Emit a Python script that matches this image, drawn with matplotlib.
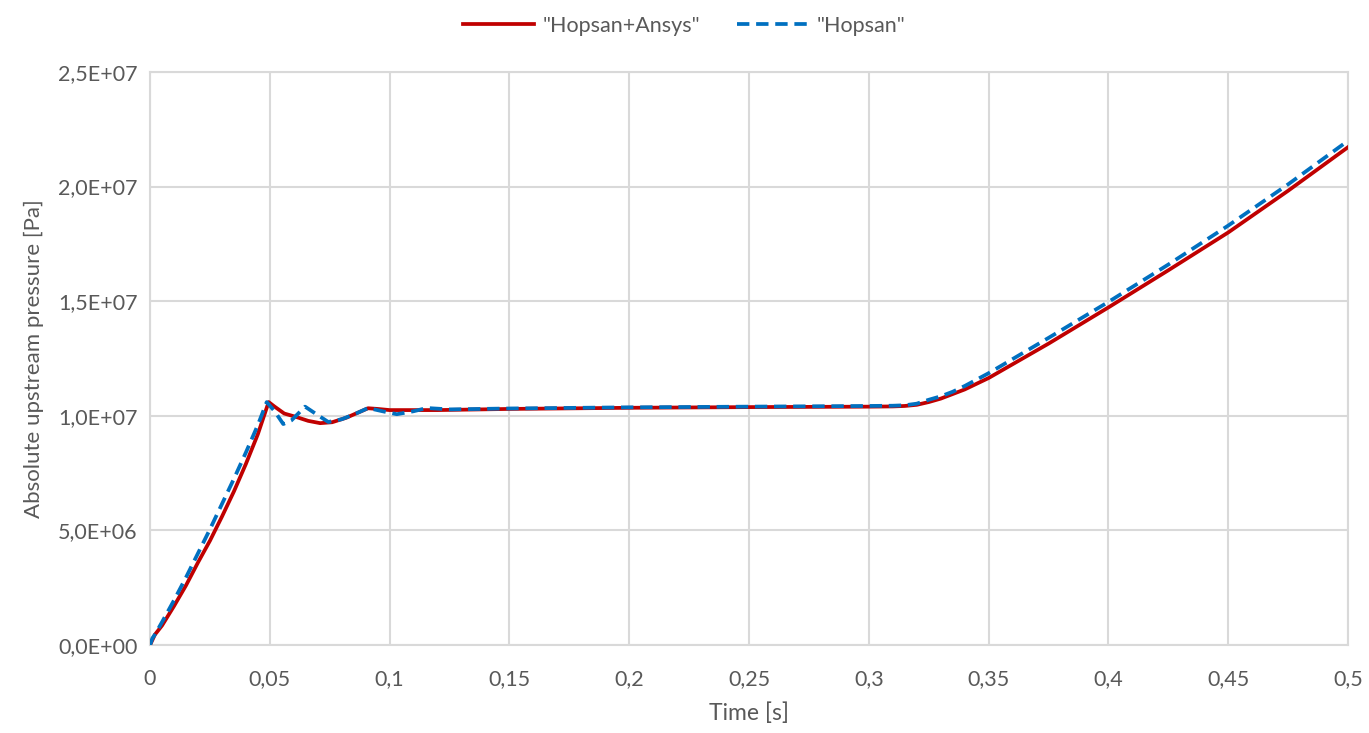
import numpy as np
import matplotlib.pyplot as plt

# --- Upstream pressure: Hopsan+Ansys vs Hopsan ---

# values
t_ansys = [0, 0.002, 0.005, 0.01, 0.015, 0.02, 0.025, 0.03, 0.035, 0.04, 0.045, 0.0495,
           0.052, 0.056, 0.061, 0.066, 0.071, 0.076, 0.082, 0.087, 0.091, 0.095, 0.1,
           0.12, 0.15, 0.2, 0.25, 0.3, 0.31, 0.315, 0.32, 0.325, 0.33, 0.335, 0.34,
           0.35, 0.375, 0.4, 0.425, 0.45, 0.475, 0.5]
p_ansys = [0, 4.5e5, 8.5e5, 1.7e6, 2.6e6, 3.6e6, 4.55e6, 5.6e6, 6.7e6, 7.9e6, 9.2e6, 1.06e7,
           1.04e7, 1.01e7, 9.95e6, 9.78e6, 9.68e6, 9.72e6, 9.92e6, 1.015e7, 1.033e7, 1.03e7, 1.025e7,
           1.025e7, 1.03e7, 1.035e7, 1.038e7, 1.04e7, 1.041e7, 1.043e7, 1.048e7, 1.06e7, 1.075e7, 1.095e7, 1.115e7,
           1.165e7, 1.315e7, 1.473e7, 1.635e7, 1.8e7, 1.982e7, 2.172e7]

t_hopsan = [0, 0.001, 0.002, 0.005, 0.01, 0.015, 0.02, 0.025, 0.03, 0.035, 0.04, 0.045, 0.0487,
            0.052, 0.0556, 0.059, 0.0647, 0.069, 0.0744, 0.08, 0.086, 0.091, 0.097, 0.103,
            0.11, 0.1155, 0.125, 0.15, 0.2, 0.25, 0.3, 0.31, 0.315, 0.32, 0.325, 0.33, 0.335, 0.34,
            0.35, 0.375, 0.4, 0.425, 0.45, 0.475, 0.5]
p_hopsan = [0, 3e5, 4.5e5, 1.0e6, 1.95e6, 2.95e6, 4.0e6, 5.05e6, 6.15e6, 7.25e6, 8.4e6, 9.6e6, 1.06e7,
            1.02e7, 9.64e6, 9.8e6, 1.04e7, 1.01e7, 9.73e6, 9.85e6, 1.01e7, 1.034e7, 1.02e7, 1.007e7,
            1.02e7, 1.034e7, 1.028e7, 1.032e7, 1.037e7, 1.04e7, 1.043e7, 1.044e7, 1.046e7, 1.053e7, 1.07e7, 1.085e7, 1.105e7, 1.13e7,
            1.186e7, 1.34e7, 1.497e7, 1.66e7, 1.83e7, 2.01e7, 2.2e7]

x_ticks = [0, 0.05, 0.1, 0.15, 0.2, 0.25, 0.3, 0.35, 0.4, 0.45, 0.5]
x_labels = ['0', '0,05', '0,1', '0,15', '0,2', '0,25', '0,3', '0,35', '0,4', '0,45', '0,5']
y_ticks = [0, 5e6, 1e7, 1.5e7, 2e7, 2.5e7]
y_labels = ['0,0E+00', '5,0E+06', '1,0E+07', '1,5E+07', '2,0E+07', '2,5E+07']

plt.rcParams['font.family'] = ['Lato', 'DejaVu Sans']
txt = '#595959'

fig = plt.figure(figsize=(13.69, 7.33), dpi=100)
ax = fig.add_axes([0.1096, 0.12, 0.8751, 0.7818])

ax.plot(t_ansys, p_ansys, color='#C00000', lw=2.7, label='"Hopsan+Ansys"', zorder=3)
ax.plot(t_hopsan, p_hopsan, color='#0070C0', lw=2.7, dashes=(3.3, 1.8),
        label='"Hopsan"', zorder=4)

ax.set_xlim(0, 0.5)
ax.set_ylim(0, 2.5e7)
ax.set_xticks(x_ticks)
ax.set_xticklabels(x_labels)
ax.set_yticks(y_ticks)
ax.set_yticklabels(y_labels)
ax.tick_params(length=0, labelsize=15.5, labelcolor=txt)
ax.tick_params(axis='x', pad=17)
ax.tick_params(axis='y', pad=9)
ax.grid(True, color='#d9d9d9', lw=1.5)
ax.set_axisbelow(True)
for s in ax.spines.values():
    s.set_color('#d9d9d9')
    s.set_linewidth(1.5)

ax.set_xlabel('Time [s]', fontsize=16.5, color=txt, labelpad=10)
ax.set_ylabel('Absolute upstream pressure [Pa]', fontsize=16, color=txt, labelpad=10)

fig.legend(loc='upper center', bbox_to_anchor=(0.5, 1.005), ncol=2, frameon=False,
           fontsize=15.5, labelcolor=txt, handlelength=3.3, handletextpad=0.4,
           columnspacing=1.7)

fig.savefig('out.png', dpi=100)
